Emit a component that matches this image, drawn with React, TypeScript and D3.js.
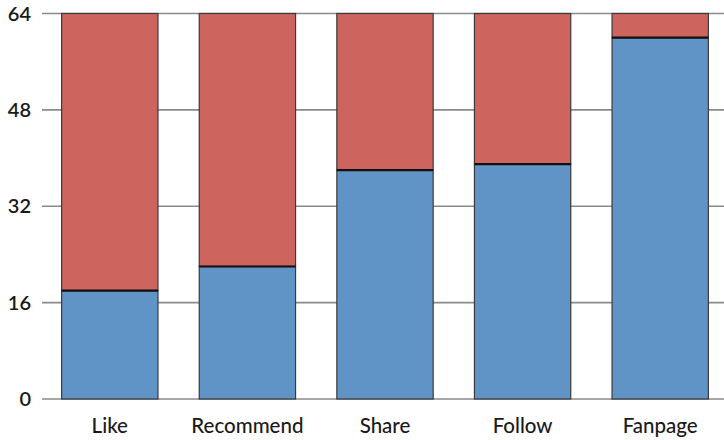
import React from "react";
import * as d3 from "d3";

const categories = ["Like", "Recommend", "Share", "Follow", "Fanpage"];
const blueValues = [18, 22, 38, 39, 60];
const redValues = [46, 42, 26, 25, 4];
const yTicks = [0, 16, 32, 48, 64];

const W = 724;
const H = 440;

export default function App() {
  const x = d3.scaleBand<string>().domain(categories).range([41, 729]).paddingInner(0.3).paddingOuter(0.15);
  const y = d3.scaleLinear().domain([0, 64]).range([399, 13.5]);
  const font = "Lato, 'Open Sans', sans-serif";
  return (
    <svg width={W} height={H} style={{ position: "absolute", left: 0, top: 0, background: "#fff" }}>
      {yTicks.map((t) => (
        <g key={t}>
          <line x1={42} x2={W} y1={y(t)} y2={y(t)} stroke="#8a8a8a" strokeWidth={1.6} />
          <text x={31} y={y(t)} dy="0.36em" textAnchor="end" fontFamily={font} fontSize={20} fontWeight={600} fill="#1a1a1a">{t}</text>
        </g>
      ))}
      {categories.map((c, i) => {
        const bx = x(c)!;
        const bw = x.bandwidth();
        const b = blueValues[i];
        const r = redValues[i];
        return (
          <g key={c}>
            <rect x={bx} y={y(b + r)} width={bw} height={y(b) - y(b + r)} fill="#CD655E" stroke="#3a3a3a" strokeWidth={1.2} />
            <rect x={bx} y={y(b)} width={bw} height={y(0) - y(b)} fill="#6094C6" stroke="#3a3a3a" strokeWidth={1.2} />
            <line x1={bx} x2={bx + bw} y1={y(b)} y2={y(b)} stroke="#111" strokeWidth={2.2} />
            <text x={bx + bw / 2} y={433} textAnchor="middle" fontFamily={font} fontSize={20.5} fontWeight={500} fill="#1a1a1a">{c}</text>
          </g>
        );
      })}
    </svg>
  );
}
